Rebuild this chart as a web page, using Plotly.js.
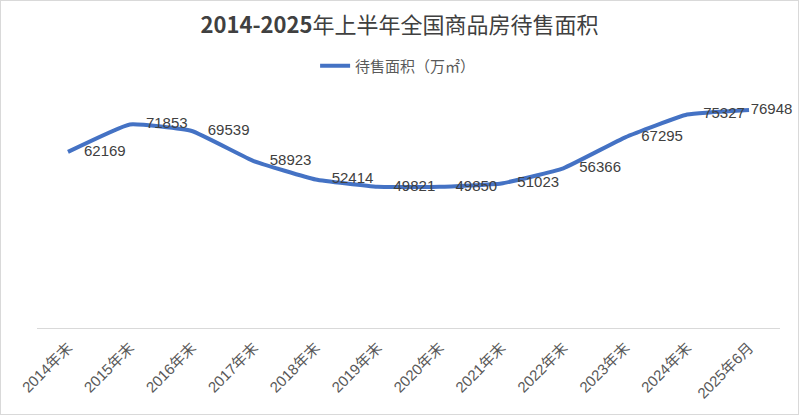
<!DOCTYPE html>
<html>
<head>
<meta charset="utf-8">
<script src="https://cdn.plot.ly/plotly-3.0.1.min.js"></script>
<style>
html,body{margin:0;padding:0;background:#fff;}
#wrap{width:799px;height:415px;box-sizing:border-box;border:1px solid #d9d9d9;}
#chart{width:797px;height:413px;}
</style>
</head>
<body>
<div id="wrap"><div id="chart"></div></div>
<script>
const categories = ["2014年末","2015年末","2016年末","2017年末","2018年末","2019年末","2020年末","2021年末","2022年末","2023年末","2024年末","2025年6月"];
const values = [62169,71853,69539,58923,52414,49821,49850,51023,56366,67295,75327,76948];
const seriesName = "待售面积（万㎡）";
const chartTitle = "<b>2014-2025</b>年上半年全国商品房待售面积";

const lineTrace = {
  x: categories,
  y: values,
  name: seriesName,
  type: "scatter",
  mode: "lines",
  line: {color: "#4472C4", width: 4, shape: "spline", smoothing: 0.35},
  hoverinfo: "x+y"
};

// per-point invisible marker sizes set the label offset (last label sits closer)
const labelOffsets = categories.map((c, i) => i === categories.length - 1 ? 1 : 24);

const labelTrace = {
  x: categories,
  y: values,
  name: seriesName,
  type: "scatter",
  mode: "markers+text",
  showlegend: false,
  marker: {size: labelOffsets, opacity: 0, color: "#4472C4"},
  text: values.map(String),
  textposition: "middle right",
  textfont: {family: "Liberation Sans, Arial, sans-serif", size: 15, color: "#404040"},
  cliponaxis: false,
  hoverinfo: "skip"
};

const layout = {
  width: 797,
  height: 413,
  margin: {l: 36, r: 18, t: 72, b: 86},
  paper_bgcolor: "#ffffff",
  plot_bgcolor: "#ffffff",
  title: {
    text: chartTitle,
    font: {family: "Noto Sans CJK SC, Liberation Sans, sans-serif", size: 22, color: "#404040"},
    x: 0.5, xanchor: "center",
    y: 0.94, yanchor: "middle", yref: "container"
  },
  showlegend: true,
  legend: {
    orientation: "h",
    x: 0.486, xanchor: "center",
    y: 1.027, yanchor: "middle",
    font: {family: "Noto Sans CJK SC, sans-serif", size: 15, color: "#595959"},
    bgcolor: "rgba(0,0,0,0)"
  },
  xaxis: {
    type: "category",
    showline: true,
    linecolor: "#d9d9d9",
    linewidth: 1,
    showgrid: false,
    zeroline: false,
    ticks: "",
    tickangle: -45,
    ticklabelstandoff: 4,
    tickfont: {family: "Liberation Sans, Noto Sans CJK SC, sans-serif", size: 15, color: "#595959"},
    range: [-0.5, 11.5],
    fixedrange: true
  },
  yaxis: {
    range: [0, 90000],
    visible: false,
    showgrid: false,
    zeroline: false,
    fixedrange: true
  }
};

Plotly.newPlot("chart", [lineTrace, labelTrace], layout, {displayModeBar: false, staticPlot: true});
</script>
</body>
</html>
